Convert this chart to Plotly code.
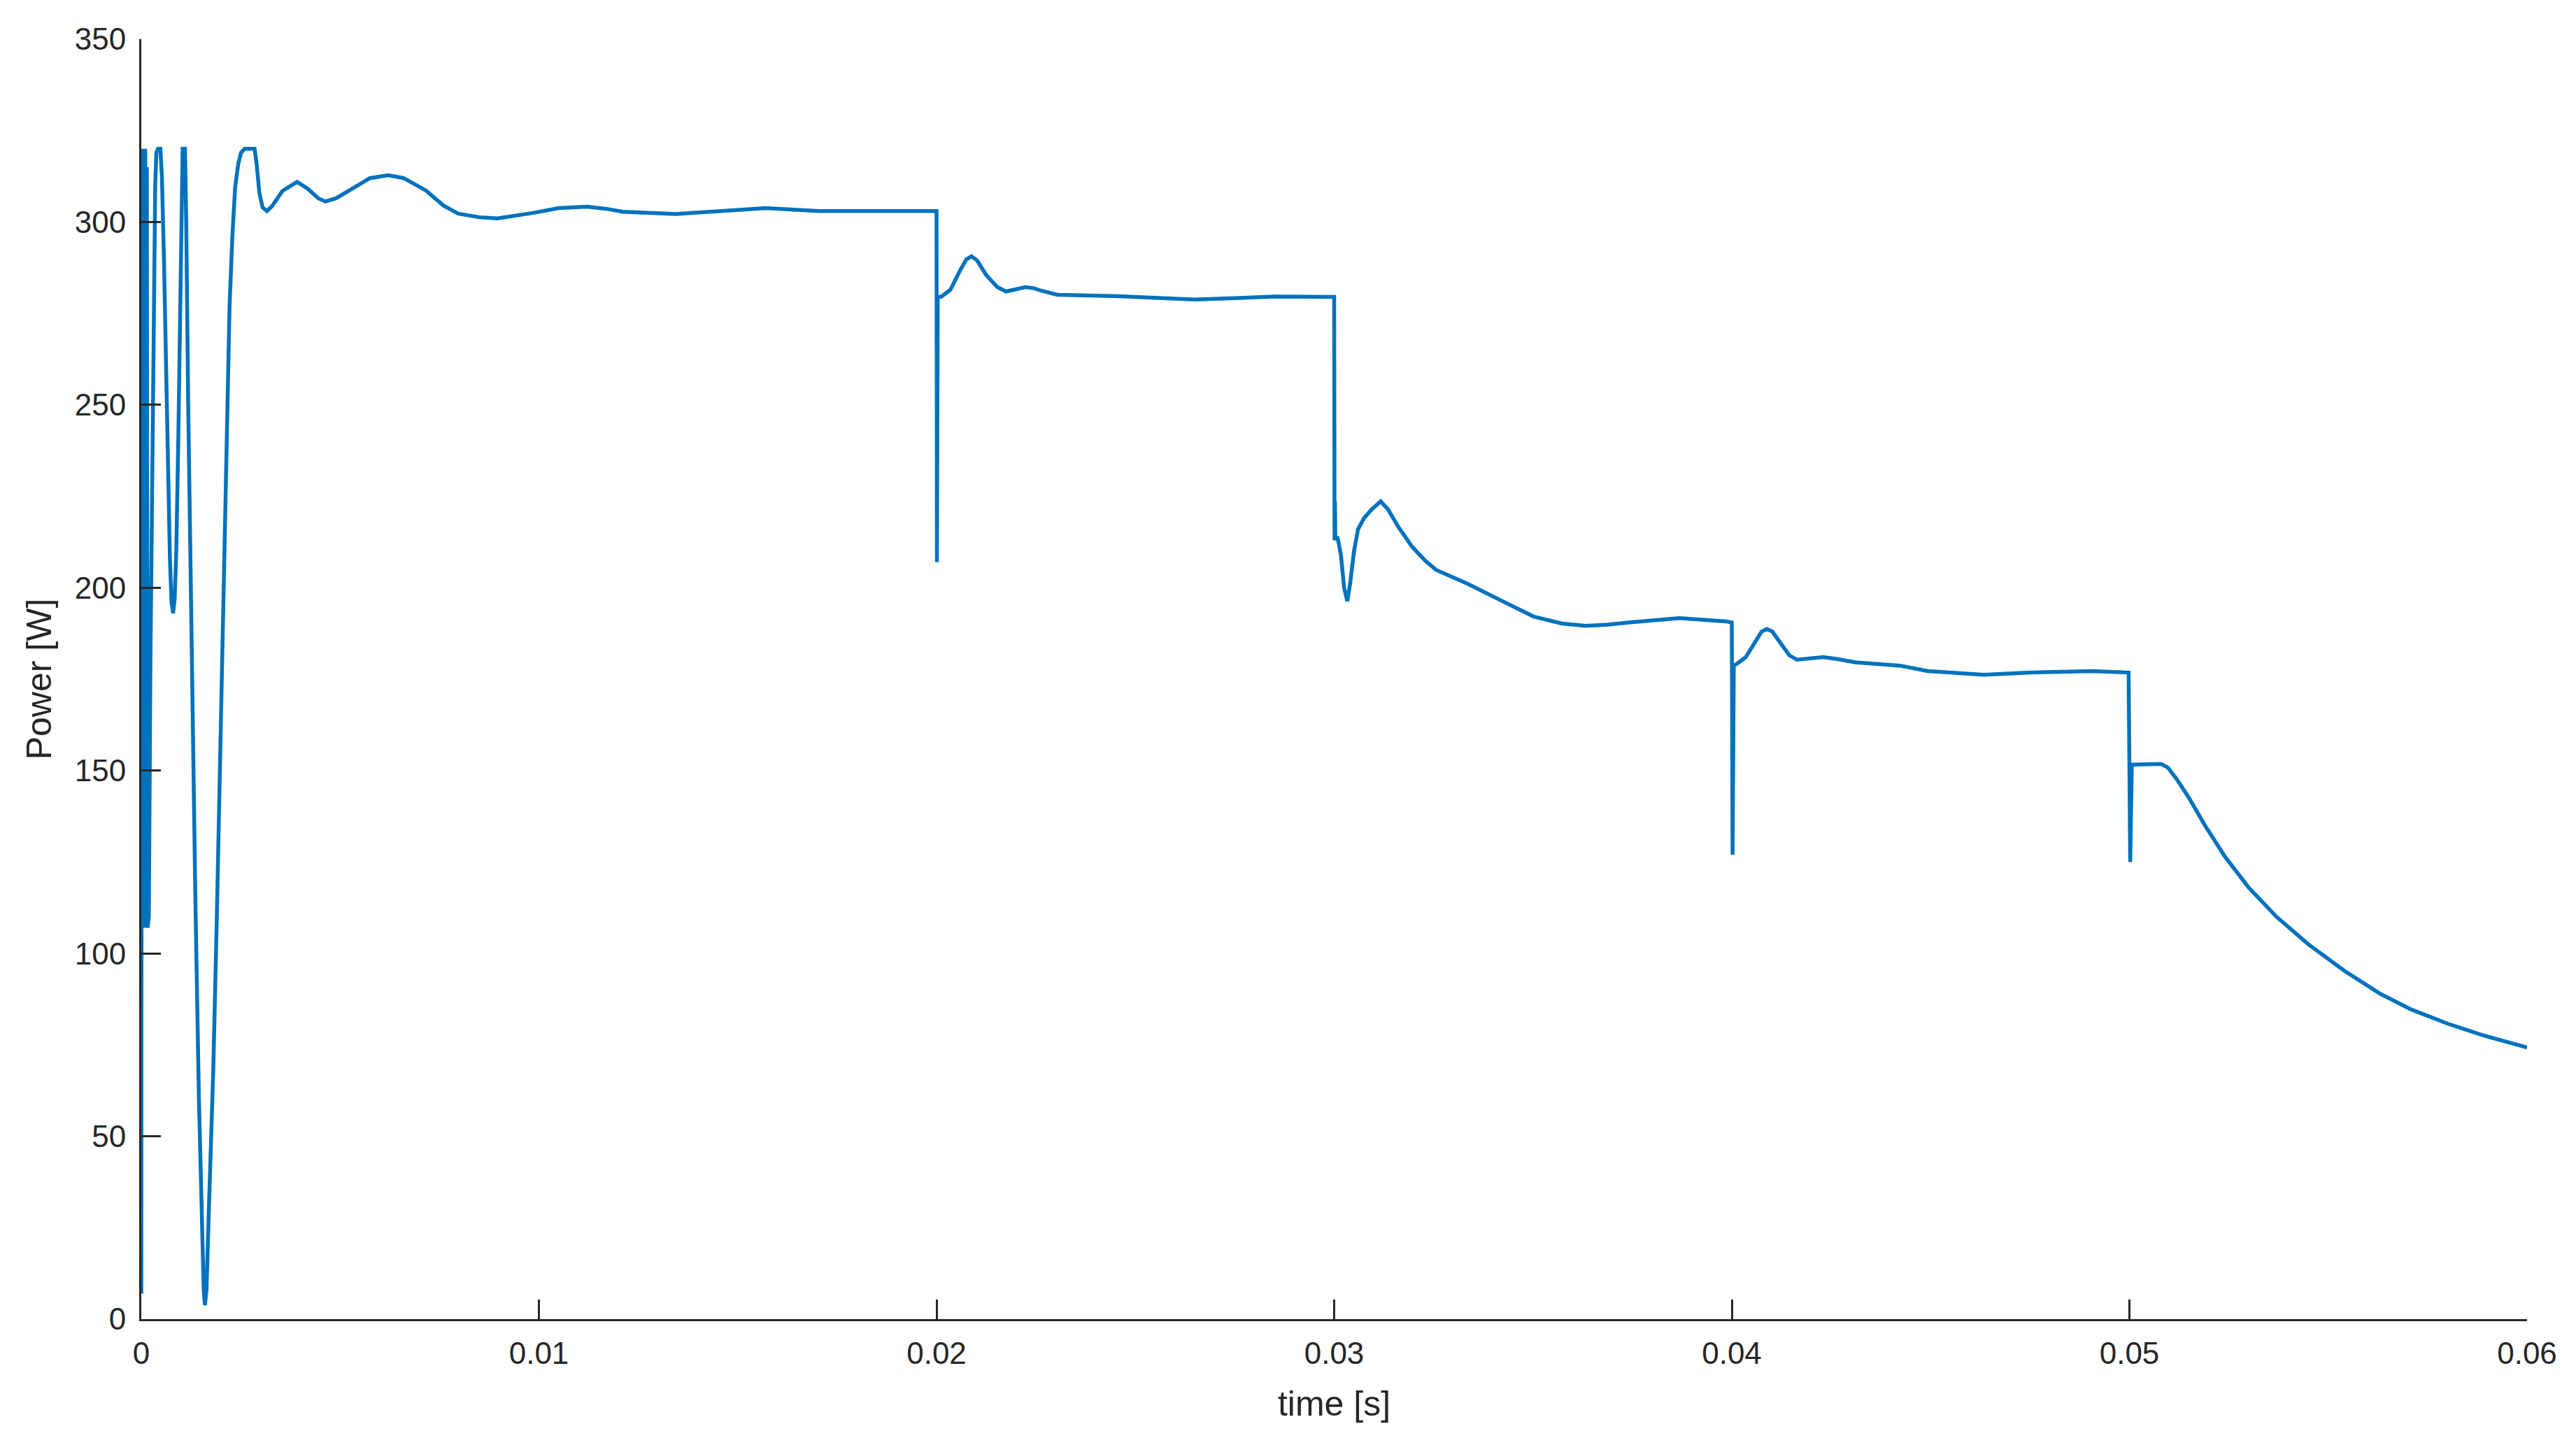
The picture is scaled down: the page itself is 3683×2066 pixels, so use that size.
import plotly.graph_objects as go

# power trace (time in s, power in W)
time_s = [
    0.0, 0.00002, 0.00004, 0.00006, 0.00008, 0.0001, 0.00012, 0.00014, 0.00016,
    0.00019, 0.00023, 0.00028, 0.00032, 0.00035, 0.00038, 0.00042, 0.00048,
    0.00052, 0.00057, 0.00062, 0.00067, 0.00072, 0.00076, 0.0008, 0.00084,
    0.00088, 0.00093, 0.00098, 0.00101, 0.00104, 0.0011, 0.00113, 0.00118,
    0.00127, 0.00136, 0.00145, 0.00152, 0.00157, 0.0016, 0.00164, 0.0017,
    0.00181, 0.0019, 0.00199, 0.0021, 0.00216, 0.00222, 0.00229, 0.00236,
    0.00244, 0.00251, 0.0026, 0.00285, 0.0029, 0.00297, 0.00305, 0.00316,
    0.0033, 0.00355, 0.00392, 0.0042, 0.00445, 0.00463, 0.0049, 0.00535,
    0.00575, 0.00621, 0.0066, 0.00716, 0.0076, 0.00797, 0.0085, 0.00896,
    0.00945, 0.00986, 0.0105, 0.01121, 0.0117, 0.01211, 0.01345, 0.0144,
    0.01524, 0.0157, 0.01704, 0.01883, 0.01996,
    0.02, 0.02001, 0.02003, 0.02012, 0.02035, 0.02058, 0.02075, 0.02088,
    0.02102, 0.02125, 0.02153, 0.02175, 0.022, 0.02223, 0.02245, 0.02264,
    0.02304, 0.02457, 0.0265, 0.0285, 0.02995,
    0.03, 0.03001, 0.03002, 0.03003, 0.03008, 0.03017, 0.03025, 0.03033,
    0.0304, 0.0305, 0.0306, 0.03075, 0.03095, 0.03117, 0.03135, 0.03161,
    0.03196, 0.03228, 0.03256, 0.03337, 0.0342, 0.03502, 0.03573, 0.03632,
    0.0369, 0.0375, 0.03868, 0.0393, 0.03986, 0.04,
    0.04002, 0.04005, 0.04013, 0.04035, 0.04055, 0.04075, 0.04088, 0.04102,
    0.04125, 0.04145, 0.04164, 0.042, 0.0423, 0.04265, 0.04311, 0.04423,
    0.04493, 0.04634, 0.04752, 0.04905, 0.04998,
    0.05002, 0.05006, 0.0508, 0.05097, 0.0512, 0.0515, 0.0519, 0.0524,
    0.053, 0.0537, 0.0545, 0.0554, 0.0563, 0.0571, 0.058, 0.0589, 0.06,
]
power_w = [
    7, 320, 110, 320, 107, 320, 108, 315, 107,
    110, 180, 240, 285, 310, 319, 320, 320,
    312, 290, 262, 232, 208, 196, 193, 197,
    210, 240, 285, 312, 320, 320, 300, 250,
    180, 115, 60, 25, 8, 3.8, 8, 30,
    68, 110, 156, 222, 252, 277, 296, 309.5,
    316, 319, 320, 320, 316, 308, 304, 303,
    304.5, 308.5, 311, 309, 306.5, 305.6, 306.5, 309.5,
    312, 312.8, 312, 308.6, 304.5, 302.3, 301.3, 301,
    301.7, 302.5, 303.8, 304.2, 303.6, 302.8, 302.2, 302.8,
    303.4, 303.8, 303, 303, 303,
    303, 207, 279.4, 279.6, 281.5, 286.5, 289.8, 290.6,
    289.5, 285.5, 282.2, 281, 281.6, 282.2, 281.9, 281.2,
    280.1, 279.7, 278.8, 279.6, 279.5,
    279.5, 213, 223.6, 213, 214, 209, 200, 196.3,
    201, 210, 216, 219, 221.5, 223.6, 221.5, 216.7,
    211.2, 207.5, 204.9, 201, 196.5, 192.1, 190.2, 189.6,
    189.9, 190.6, 191.7, 191.3, 190.8, 190.5,
    127, 178.7, 179.2, 181, 184.5, 188, 188.7, 188,
    184.5, 181.5, 180.3, 180.6, 181, 180.5, 179.6, 178.7,
    177.2, 176.2, 176.8, 177.2, 176.8,
    125, 151.6, 151.8, 150.8, 147.5, 142.5, 135, 126.5,
    118, 110, 102.5, 95.3, 89, 84.6, 80.8, 77.6, 74.3,
]

x_ticks = [0, 0.01, 0.02, 0.03, 0.04, 0.05, 0.06]
x_labels = ["0", "0.01", "0.02", "0.03", "0.04", "0.05", "0.06"]
y_ticks = [0, 50, 100, 150, 200, 250, 300, 350]

ink = "#262626"

fig = go.Figure()
fig.add_trace(go.Scatter(
    x=time_s, y=power_w, mode="lines",
    line=dict(color="#0072BD", width=5.5),
    showlegend=False,
))

# the page body adds an 8px offset, margins are trimmed for it
fig.update_layout(
    width=3683, height=2066,
    margin=dict(l=194, r=78, t=48, b=188),
    paper_bgcolor="white", plot_bgcolor="white",
    font=dict(family="Liberation Sans, Arial, sans-serif", color=ink, size=44),
)
fig.update_xaxes(
    range=[0, 0.06], tickvals=x_ticks, ticktext=x_labels,
    showgrid=False, zeroline=False, automargin=False,
    showline=True, linecolor=ink, linewidth=3,
    ticks="inside", ticklen=28, tickwidth=2.5, tickcolor=ink,
    ticklabelstandoff=8,
    title=dict(text="time [s]", font=dict(size=50, color=ink), standoff=32),
)
fig.update_yaxes(
    range=[0, 350], tickvals=y_ticks,
    showgrid=False, zeroline=False, automargin=False,
    showline=True, linecolor=ink, linewidth=3,
    ticks="inside", ticklen=28, tickwidth=2.5, tickcolor=ink,
    ticklabelstandoff=10,
    title=dict(text="Power [W]", font=dict(size=50, color=ink), standoff=18),
)

fig.write_html("out.html")
